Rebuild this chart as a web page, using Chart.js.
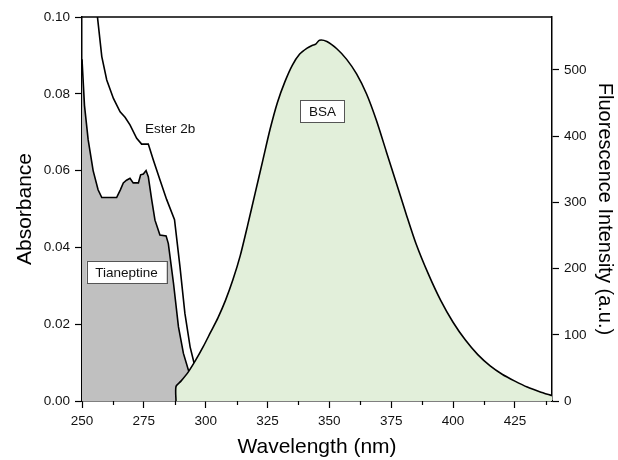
<!DOCTYPE html>
<html><head><meta charset="utf-8">
<script src="https://cdn.jsdelivr.net/npm/chart.js@4.4.1/dist/chart.umd.min.js"></script>
<style>html,body{margin:0;padding:0;background:#fff}#wrap{width:618px;height:460px}</style>
</head><body><div id="wrap"><canvas id="c" width="618" height="460"></canvas></div>
<script>
// Tianeptine absorbance
const tianWl  = [250, 251, 252.5, 254.5, 256.5, 258, 264, 265.5, 266.7, 268, 269.4, 270.7, 272.8, 273.7, 274.8, 275.9, 276.8, 278.2, 279.5, 281.5, 284, 284.9, 287, 289, 291, 293, 295, 297, 299];
const tianAbs = [0.089, 0.077, 0.068, 0.060, 0.055, 0.053, 0.053, 0.055, 0.0568, 0.0575, 0.058, 0.0568, 0.0568, 0.0589, 0.0591, 0.060, 0.0584, 0.0523, 0.0471, 0.0432, 0.043, 0.041, 0.0306, 0.0193, 0.0124, 0.0081, 0.005, 0.002, 0];
// Ester 2b absorbance
const esterWl  = [254, 255.5, 256.3, 258, 260, 262.7, 265.4, 267.4, 269.4, 272.1, 274.1, 276.8, 278.8, 281.5, 284.2, 287.4, 289.6, 291.6, 293.7, 295.3, 297, 299];
const esterAbs = [0.118, 0.105, 0.0997, 0.0897, 0.0836, 0.0788, 0.0753, 0.0739, 0.0719, 0.0684, 0.0669, 0.0669, 0.0628, 0.0576, 0.0525, 0.0472, 0.035, 0.0228, 0.0141, 0.0099, 0.006, 0.002];
// BSA fluorescence
const bsaWl = [288, 288, 290, 293, 296, 299, 302, 305, 308, 311, 314, 317, 320, 323, 326, 329, 332, 335, 338, 341, 343, 344.5, 346, 349, 353, 357, 361, 365, 369, 373, 377, 381, 385, 390, 395, 400, 405, 410, 415, 420, 425, 430, 435, 440];
const bsaFl = [0, 22, 30, 44, 62, 82, 104, 126, 152, 183, 220, 266, 314, 362, 410, 451, 482, 507, 524, 533, 537, 539, 545, 543, 532, 516, 494, 464, 424, 377, 330, 283, 238, 192, 152, 119, 92, 70, 53, 40, 30, 21, 14, 8];

const xTicks = [250, 275, 300, 325, 350, 375, 400, 425];
const xMinorTicks = [262.5, 287.5, 312.5, 337.5, 362.5, 387.5, 412.5, 437.5];
const absTicks = [0, 0.02, 0.04, 0.06, 0.08, 0.10];
const flTicks = [0, 100, 200, 300, 400, 500];

const notes = [
  {text: 'Ester 2b', x: 285.6, y: 0.0711, axis: 'y', box: false},
  {text: 'Tianeptine', x: 268, y: 0.0336, axis: 'y', box: true},
  {text: 'BSA', x: 347.2, y: 438, axis: 'y2', box: true}
];

const pts = (xs, ys) => xs.map((x, i) => ({x: x, y: ys[i]}));
const FONT = 'Arial, "Liberation Sans", sans-serif';

const extras = {
  id: 'extras',
  afterDatasetsDraw(chart) {
    const ctx = chart.ctx, a = chart.chartArea, xs = chart.scales.x;
    ctx.save();
    ctx.strokeStyle = '#000'; ctx.lineWidth = 1.5;
    ctx.beginPath(); ctx.moveTo(a.left, a.top); ctx.lineTo(a.right, a.top); ctx.stroke();
    ctx.lineWidth = 1.2;
    xMinorTicks.forEach(v => {
      const px = Math.round(xs.getPixelForValue(v)) + 0.5;
      ctx.beginPath(); ctx.moveTo(px, a.bottom); ctx.lineTo(px, a.bottom + 4); ctx.stroke();
    });
    ctx.font = '13.5px ' + FONT;
    ctx.textAlign = 'center'; ctx.textBaseline = 'middle';
    notes.forEach(n => {
      const px = xs.getPixelForValue(n.x), py = chart.scales[n.axis].getPixelForValue(n.y);
      if (n.box) {
        const w = ctx.measureText(n.text).width + 17, h = 22;
        ctx.fillStyle = '#fff';
        ctx.fillRect(px - w / 2, py - h / 2, w, h);
        ctx.strokeStyle = '#555'; ctx.lineWidth = 1;
        ctx.strokeRect(Math.round(px - w / 2) + 0.5, Math.round(py - h / 2) + 0.5, Math.round(w), h);
      }
      ctx.fillStyle = '#111';
      ctx.fillText(n.text, px, py + 1);
    });
    ctx.restore();
  }
};

new Chart(document.getElementById('c'), {
  type: 'scatter',
  data: {
    datasets: [
      {label: 'BSA', data: pts(bsaWl, bsaFl), yAxisID: 'y2', showLine: true, borderColor: '#000', borderWidth: 1.6,
       backgroundColor: '#e2efda', fill: 'origin', pointRadius: 0, tension: 0.25},
      {label: 'Ester 2b', data: pts(esterWl, esterAbs), yAxisID: 'y', showLine: true, borderColor: '#000', borderWidth: 1.6,
       fill: false, pointRadius: 0, tension: 0},
      {label: 'Tianeptine', data: pts(tianWl, tianAbs), yAxisID: 'y', showLine: true, borderColor: '#000', borderWidth: 1.6,
       backgroundColor: '#c0c0c0', fill: 'origin', pointRadius: 0, tension: 0}
    ]
  },
  options: {
    responsive: false, devicePixelRatio: 1, animation: false,
    layout: {padding: {top: 17, left: 0, right: 0, bottom: 0}},
    plugins: {legend: {display: false}, tooltip: {enabled: false}},
    scales: {
      x: {
        type: 'linear', position: 'bottom', min: 250, max: 440,
        afterBuildTicks: s => { s.ticks = xTicks.map(v => ({value: v})); },
        afterFit: s => { s.height = 59; },
        grid: {display: true, drawOnChartArea: false, drawTicks: true, tickLength: 7, tickColor: '#000', tickWidth: 1.2},
        border: {display: true, color: '#000', width: 1.5},
        ticks: {color: '#111', font: {size: 13.5, family: FONT}, padding: 5, maxRotation: 0},
        title: {display: true, text: 'Wavelength (nm)', color: '#000', font: {size: 21, family: FONT}, padding: {top: 0, bottom: 0}}
      },
      y: {
        type: 'linear', position: 'left', min: 0, max: 0.10,
        afterBuildTicks: s => { s.ticks = absTicks.map(v => ({value: v})); },
        afterFit: s => { s.width = 82; },
        grid: {display: true, drawOnChartArea: false, drawTicks: true, tickLength: 7, tickColor: '#000', tickWidth: 1.2},
        border: {display: true, color: '#000', width: 1.5},
        ticks: {color: '#111', font: {size: 13.5, family: FONT}, padding: 5, callback: v => v.toFixed(2)},
        title: {display: true, text: 'Absorbance', color: '#000', font: {size: 21, family: FONT}, padding: {top: 13, bottom: 0}}
      },
      y2: {
        type: 'linear', position: 'right', min: 0, max: 580,
        afterBuildTicks: s => { s.ticks = flTicks.map(v => ({value: v})); },
        afterFit: s => { s.width = 66; },
        grid: {display: true, drawOnChartArea: false, drawTicks: true, tickLength: 7, tickColor: '#000', tickWidth: 1.2},
        border: {display: true, color: '#000', width: 1.5},
        ticks: {color: '#111', font: {size: 13.5, family: FONT}, padding: 5},
        title: {display: true, text: 'Fluorescence Intensity (a.u.)', color: '#000', font: {size: 20, family: FONT}, padding: {top: 1, bottom: 0}}
      }
    }
  },
  plugins: [extras]
});
</script></body></html>
